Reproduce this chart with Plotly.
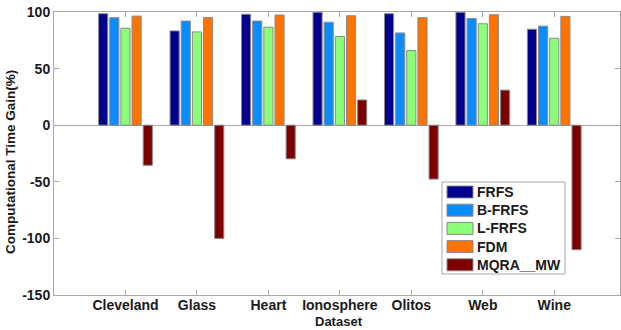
import plotly.graph_objects as go

# Datasets and computational time gain (%) for each method
datasets = ["Cleveland", "Glass", "Heart", "Ionosphere", "Olitos", "Web", "Wine"]
frfs = [98.5, 83.3, 98.0, 99.7, 98.5, 99.7, 84.8]
b_frfs = [95.0, 92.0, 92.0, 91.0, 81.5, 94.3, 87.5]
l_frfs = [85.7, 82.4, 86.6, 78.3, 66.0, 89.6, 76.8]
fdm = [96.4, 95.2, 97.3, 96.7, 95.0, 97.6, 96.1]
mqra_mw = [-35.4, -100.0, -29.7, 22.3, -47.6, 31.0, -110.0]

series_names = ["FRFS", "B-FRFS", "L-FRFS", "FDM", "MQRA__MW"]
series_values = [frfs, b_frfs, l_frfs, fdm, mqra_mw]
series_colors = ["#00008c", "#0a8cff", "#8cff78", "#ff7300", "#7d0000"]

y_ticks = [-150, -100, -50, 0, 50, 100]
y_ticktext = ["<b>%d</b>" % v for v in y_ticks]
x_ticktext = ["<b>%s</b>" % d for d in datasets]

positions = list(range(1, len(datasets) + 1))

fig = go.Figure()
for name, vals, col in zip(series_names, series_values, series_colors):
    fig.add_trace(go.Bar(
        x=positions, y=vals, name=name, showlegend=False,
        marker=dict(color=col, line=dict(color="#8a8a8a", width=1)),
    ))

font_family = "Liberation Sans, Arial, sans-serif"
tick_font = dict(family=font_family, size=14, color="#1a1a1a")
axis_gray = "#a8a8a8"

W, H = 621, 330
ML, MR, MT, MB = 54, 1, 12, 35
PW, PH = W - ML - MR, H - MT - MB


def px_x(px):
    return (px - ML) / PW


def px_y(py):
    return (H - MB - py) / PH


# Legend box with wide colour swatches
shapes = [dict(type="rect", xref="paper", yref="paper",
               x0=px_x(442), x1=px_x(565), y0=px_y(274), y1=px_y(182),
               fillcolor="white", line=dict(color=axis_gray, width=1), layer="above")]
annotations = []
for i, (name, col) in enumerate(zip(series_names, series_colors)):
    cy = 192 + 18.2 * i
    shapes.append(dict(type="rect", xref="paper", yref="paper",
                       x0=px_x(447), x1=px_x(473), y0=px_y(cy + 6), y1=px_y(cy - 6),
                       fillcolor=col, line=dict(color="#8a8a8a", width=1), layer="above"))
    annotations.append(dict(xref="paper", yref="paper", x=px_x(475), y=px_y(cy),
                            xanchor="left", yanchor="middle", showarrow=False,
                            text="<b>%s</b>" % name,
                            font=dict(family=font_family, size=14, color="#1a1a1a")))

# Axis titles
annotations.append(dict(xref="paper", yref="paper", x=px_x(10), y=px_y(162),
                        xanchor="center", yanchor="middle", textangle=-90, showarrow=False,
                        text="<b>Computational Time Gain(%)</b>",
                        font=dict(family=font_family, size=13.5, color="#1a1a1a")))
annotations.append(dict(xref="paper", yref="paper", x=px_x(339), y=px_y(321),
                        xanchor="center", yanchor="middle", showarrow=False,
                        borderpad=0, text="<b>Dataset</b>",
                        font=dict(family=font_family, size=13, color="#1a1a1a")))

fig.update_layout(
    width=W, height=H,
    margin=dict(l=ML, r=MR, t=MT, b=MB),
    paper_bgcolor="white", plot_bgcolor="white",
    barmode="group", bargap=0.22, bargroupgap=0.18,
    shapes=shapes, annotations=annotations,
    xaxis=dict(
        range=[0, 7.92], tickmode="array", tickvals=positions, ticktext=x_ticktext,
        ticks="inside", ticklen=5, tickcolor=axis_gray, ticklabelstandoff=-3,
        showline=True, linecolor=axis_gray, linewidth=1, mirror="ticks",
        showgrid=False, zeroline=False, tickfont=tick_font,
        automargin=False,
    ),
    yaxis=dict(
        range=[-150, 100], tickmode="array", tickvals=y_ticks, ticktext=y_ticktext,
        ticks="inside", ticklen=5, tickcolor=axis_gray,
        showline=True, linecolor=axis_gray, linewidth=1, mirror="ticks",
        showgrid=False, zeroline=True, zerolinecolor=axis_gray, zerolinewidth=1,
        tickfont=tick_font, automargin=False,
    ),
)

fig.write_html("out.html")
